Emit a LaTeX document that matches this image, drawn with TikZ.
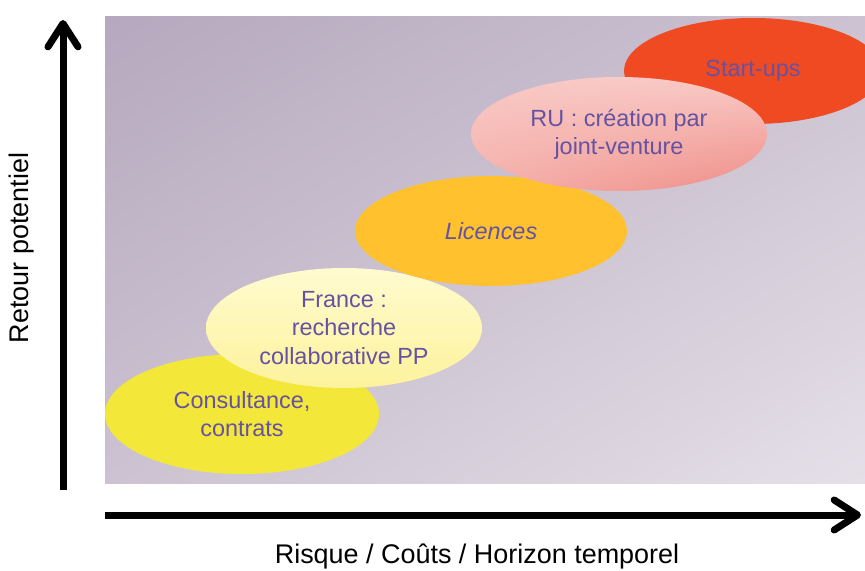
\documentclass[tikz,border=0pt]{standalone}
\usepackage{fontspec}
\setmainfont{Liberation Sans}
\usetikzlibrary{arrows.meta,shapes.geometric,shadings}
\definecolor{FondA}{HTML}{B6A8BE}
\definecolor{FondB}{HTML}{CCC2D1}
\definecolor{FondC}{HTML}{E5E0E8}
\definecolor{Violet}{HTML}{6552A2}
\definecolor{Jaune}{HTML}{F3E73A}
\definecolor{JauneClair}{HTML}{FFFBCF}
\definecolor{JaunePale}{HTML}{FDF29C}
\definecolor{Orange}{HTML}{FFC12E}
\definecolor{Rose}{HTML}{F9CAC6}
\definecolor{RoseFonce}{HTML}{EF8C86}
\definecolor{Rouge}{HTML}{F04A23}

\begin{document}
\begin{tikzpicture}[
  x=0.3mm, y=-0.3mm,
  every node/.style={font=\fontsize{20}{24}\selectfont},
  axe/.style={-{Straight Barb[round,length=7mm,width=9mm]},line width=2.1mm,black},
  bulle/.style={ellipse,inner sep=0pt,align=center,text=Violet},
  etiquette/.style={font=\fontsize{23}{27}\selectfont}
]
  \useasboundingbox (0,0) rectangle (865,571);
  \clip (0,0) rectangle (865,571);

  % Fond dégradé
  \shade[upper left=FondA,upper right=FondB,lower left=FondB,lower right=FondC]
    (105,17) rectangle (865,483);

  % Bulles, du moins risqué au plus risqué
  \node[bulle,fill=Jaune,minimum width=82.2mm,minimum height=36mm] (conseil) at (242,414)
    {Consultance,\\contrats};
  \node[bulle,upper left=JauneClair,upper right=JauneClair,lower left=JaunePale,
    lower right=JaunePale,minimum width=82.8mm,minimum height=36mm] (france) at (344,328)
    {France :\\recherche\\collaborative PP};
  \node[bulle,fill=Orange,minimum width=81.6mm,minimum height=33mm] (licences) at (491,231)
    {\textit{Licences}};
  \node[bulle,fill=Rouge,minimum width=77.4mm,minimum height=31.8mm] (startups) at (753,71)
    {Start-ups};
  \node[bulle,upper left=Rose,upper right=Rose,lower left=Rose!60!RoseFonce,
    lower right=RoseFonce,minimum width=88.8mm,minimum height=34.2mm] (ru) at (619,134)
    {RU : création par\\joint-venture};

  % Axes
  \coordinate (origineV) at (63,490);
  \coordinate (hautV) at (63,20);
  \coordinate (origineH) at (105,515);
  \coordinate (droiteH) at (861,515);
  \draw[axe] (origineV) -- (hautV);
  \draw[axe] (origineH) -- (droiteH);
  \node[etiquette,rotate=90] (retour) at (22,248) {Retour potentiel};
  \node[etiquette] (risque) at (477,556) {Risque / Coûts / Horizon temporel};
\end{tikzpicture}
\end{document}
